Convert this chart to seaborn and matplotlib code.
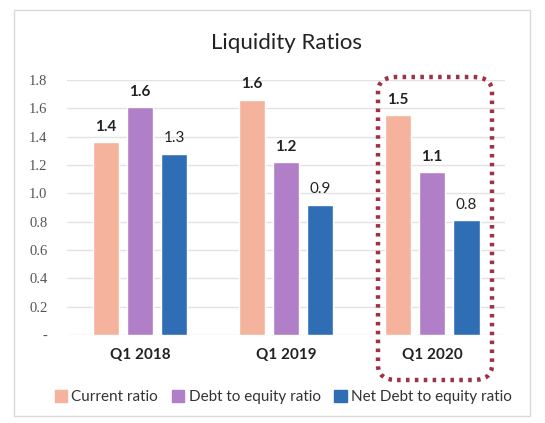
import numpy as np
import pandas as pd
import matplotlib
matplotlib.use("Agg")
import matplotlib.pyplot as plt
import seaborn as sns
from matplotlib.patches import FancyBboxPatch, Rectangle

# data
quarters = ["Q1 2018", "Q1 2019", "Q1 2020"]
series = ["Current ratio", "Debt to equity ratio", "Net Debt to equity ratio"]
current_ratio = [1.36, 1.66, 1.55]
debt_to_equity = [1.61, 1.22, 1.15]
net_debt_to_equity = [1.28, 0.92, 0.81]
# labels as printed on the chart
current_labels = ["1.4", "1.6", "1.5"]
debt_labels = ["1.6", "1.2", "1.1"]
net_debt_labels = ["1.3", "0.9", "0.8"]
colors = ["#F5B29C", "#B07FC8", "#2F6DB5"]
y_ticks = [0, 0.2, 0.4, 0.6, 0.8, 1.0, 1.2, 1.4, 1.6, 1.8]
y_tick_labels = ["-", "0.2", "0.4", "0.6", "0.8", "1.0", "1.2", "1.4", "1.6", "1.8"]

df = pd.DataFrame({
    "quarter": quarters * 3,
    "series": np.repeat(series, 3),
    "value": current_ratio + debt_to_equity + net_debt_to_equity,
})

sns.set_style("white")
plt.rcParams["font.family"] = ["Lato", "DejaVu Sans"]
fig = plt.figure(figsize=(5.45, 4.23), dpi=100)
ax = fig.add_axes([0.123, 0.208, 0.804, 0.603])

sns.barplot(data=df, x="quarter", y="value", hue="series", order=quarters,
            hue_order=series, palette=colors, width=0.7, gap=0.22,
            saturation=1, ax=ax, legend=False)

ax.set_ylim(0, 1.8)
ax.set_xlim(-0.5, 2.5)
ax.set_yticks(y_ticks)
ax.set_yticklabels(y_tick_labels, fontfamily="Liberation Serif", fontsize=10.5, color="#555555")
ax.yaxis.grid(True, color="#E3E3E3", linewidth=1)
ax.set_axisbelow(True)
for s in ax.spines.values():
    s.set_visible(False)
ax.tick_params(axis="both", length=0)
ax.tick_params(axis="y", pad=14)
ax.set_xlabel("")
ax.set_ylabel("")
ax.set_xticks(range(3))
ax.set_xticklabels(quarters, fontweight="bold", fontsize=11, color="#222222")
ax.tick_params(axis="x", pad=9)

# value labels
for i, (cont, labs) in enumerate(zip(ax.containers, [current_labels, debt_labels, net_debt_labels])):
    weight = "normal" if i == 2 else "bold"
    ax.bar_label(cont, labels=labs, padding=6, fontsize=11, fontweight=weight, color="#222222")

ax.set_title("Liquidity Ratios", fontsize=16, color="#222222", pad=22)

# dotted highlight around Q1 2020
box = FancyBboxPatch((378 / 545, 1 - 380 / 423), 114 / 545, 303 / 423,
                     boxstyle="round,pad=0,rounding_size=0.035",
                     transform=fig.transFigure, fill=False,
                     edgecolor="#9E3344", linewidth=3.2, linestyle=(0, (0.8, 1.2)))
fig.patches.append(box)

# chart frame
frame = Rectangle((14 / 545, 1 - 416 / 423), 516 / 545, 406 / 423,
                  transform=fig.transFigure, fill=False, edgecolor="#D9D9D9", linewidth=1)
fig.patches.append(frame)

# legend
handles = [Rectangle((0, 0), 1, 1, color=c) for c in colors]
fig.legend(handles, series, loc="center", bbox_to_anchor=(0.52, 1 - 397 / 423),
           ncol=3, frameon=False, fontsize=11, handlelength=0.8, handleheight=0.8,
           handletextpad=0.3, columnspacing=0.9, labelcolor="#333333")

fig.savefig("out.png", dpi=100)
